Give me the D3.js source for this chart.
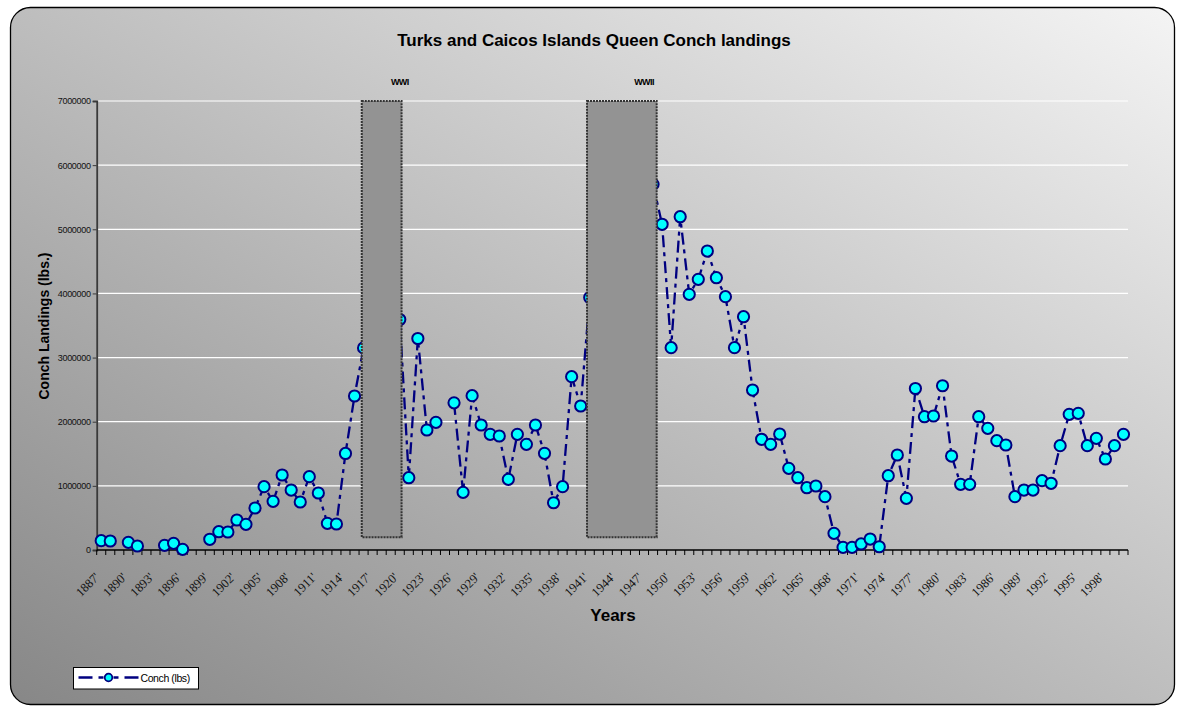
<!DOCTYPE html>
<html>
<head>
<meta charset="utf-8">
<script src="https://cdn.jsdelivr.net/npm/d3@7"></script>
<style>
  html, body { margin: 0; padding: 0; background: #fff; }
  svg { display: block; }
</style>
</head>
<body>
<div id="chart"></div>
<script>
// Turks and Caicos Islands queen conch landings, lbs per year (null = no point)
const years = d3.range(1887, 2001);
const conch = [
  145000, 140000, null, 120000, 62000, null, null, 73000, 104000, 11000,
  null, null, 167000, 285000, 281000, 468000, 400000, 655000, 987000, 759000,
  1169000, 935000, 748000, 1143000, 889000, 416000, 405000, 1505000, 2401000, 3150000,
  null, null, null, 3593000, 1127000, 3297000, 1871000, 1990000, null, 2294000,
  899000, 2406000, 1949000, 1803000, 1777000, 1102000, 1803000, 1648000, 1949000, 1507000,
  737000, 987000, 2702000, 2245000, 3936000, null, null, null, null, null,
  null, 5701000, 5078000, 3154000, 5196000, 3986000, 4220000, 4661000, 4245000, 3949000,
  3154000, 3637000, 2494000, 1726000, 1648000, 1808000, 1273000, 1127000, 971000, 998000,
  831000, 260000, 42000, 42000, 94000, 171000, 51000, 1158000, 1481000, 806000,
  2518000, 2078000, 2089000, 2561000, 1465000, 1024000, 1024000, 2078000, 1897000, 1704000,
  1637000, 831000, 935000, 935000, 1081000, 1040000, 1626000, 2115000, 2131000, 1626000,
  1741000, 1419000, 1626000, 1803000
];
const tickYears = [1887, 1890, 1893, 1896, 1899, 1902, 1905, 1908, 1911, 1914, 1917, 1920,
  1923, 1926, 1929, 1932, 1935, 1938, 1941, 1944, 1947, 1950, 1953, 1956, 1959, 1962,
  1965, 1968, 1971, 1974, 1977, 1980, 1983, 1986, 1989, 1992, 1995, 1998];
const yTicks = [0, 1000000, 2000000, 3000000, 4000000, 5000000, 6000000, 7000000];

// war shading (as drawn in the original)
const warNames = ["WWI", "WWII"];
const warStart = [1915.8, 1940.7];
const warEnd = [1920.2, 1948.4];
const warLabelYear = [1920, 1947];
const warLow = 200000, warHigh = 7000000;

const W = 1178, H = 707;
const plot = {left: 96.7, right: 1128, top: 101, bottom: 550};

const svg = d3.select("#chart").append("svg")
  .attr("width", W).attr("height", H);

const defs = svg.append("defs");
const grad = defs.append("linearGradient").attr("id", "bg")
  .attr("x1", 0).attr("y1", 1).attr("x2", 1).attr("y2", 0);
grad.append("stop").attr("offset", "0%").attr("stop-color", "#878787");
grad.append("stop").attr("offset", "100%").attr("stop-color", "#f4f4f4");

svg.append("rect")
  .attr("x", 10.5).attr("y", 7.5).attr("width", 1164).attr("height", 697)
  .attr("rx", 20).attr("ry", 20)
  .attr("fill", "url(#bg)").attr("stroke", "#000").attr("stroke-width", 1.3);

const x = d3.scaleBand().domain(years).range([plot.left, plot.right]).padding(0);
const cx = d => x(d) + x.bandwidth() / 2;
const xYear = d3.scaleLinear().domain([1887, 2000]).range([cx(1887), cx(2000)]);
const y = d3.scaleLinear().domain([0, 7000000]).range([plot.bottom, plot.top]);

// gridlines
svg.append("g").selectAll("line")
  .data(yTicks.slice(1)).join("line")
  .attr("x1", plot.left).attr("x2", plot.right)
  .attr("y1", d => y(d)).attr("y2", d => y(d))
  .attr("stroke", "#fff").attr("stroke-width", 1.2);

// y axis
const yAxis = svg.append("g")
  .attr("transform", `translate(${plot.left},0)`)
  .call(d3.axisLeft(y).tickValues(yTicks).tickFormat(d3.format("d")).tickSize(4).tickPadding(2));
yAxis.select(".domain").attr("stroke", "#3a3a3a").attr("stroke-width", 1.8);
yAxis.selectAll(".tick line").attr("stroke", "#3a3a3a");
yAxis.selectAll("text")
  .attr("font-family", "Liberation Sans, Arial, sans-serif")
  .attr("font-size", 9).attr("fill", "#111").attr("letter-spacing", -0.3);

// x axis: tick marks at category boundaries
const bounds = years.map(d => x(d)).concat([plot.right]);
svg.append("g").selectAll("line")
  .data(bounds).join("line")
  .attr("x1", d => d).attr("x2", d => d)
  .attr("y1", plot.bottom).attr("y2", plot.bottom + 5)
  .attr("stroke", "#000").attr("stroke-width", 1);
svg.append("line")
  .attr("x1", plot.left).attr("x2", plot.right)
  .attr("y1", plot.bottom).attr("y2", plot.bottom)
  .attr("stroke", "#000").attr("stroke-width", 1.5);

const xAxis = svg.append("g")
  .attr("transform", `translate(0,${plot.bottom})`)
  .call(d3.axisBottom(x).tickValues(tickYears).tickSize(0).tickFormat(d => d + "'"));
xAxis.select(".domain").remove();
xAxis.selectAll("text")
  .attr("font-family", "Liberation Serif, Times New Roman, serif")
  .attr("font-size", 12.5).attr("fill", "#111")
  .attr("text-anchor", "end")
  .attr("dy", null).attr("y", null)
  .attr("transform", "translate(-1,28) rotate(-45)");

// line + markers
const pts = years.map((d, i) => ({year: d, v: conch[i]}));
const line = d3.line()
  .defined(d => d.v != null)
  .x(d => cx(d.year)).y(d => y(d.v));

svg.append("path")
  .datum(pts)
  .attr("d", line)
  .attr("fill", "none")
  .attr("stroke", "#000080")
  .attr("stroke-width", 2.3)
  .attr("stroke-dasharray", "12,5,4,5");

svg.append("g").selectAll("circle")
  .data(pts.filter(d => d.v != null)).join("circle")
  .attr("cx", d => cx(d.year)).attr("cy", d => y(d.v))
  .attr("r", 5.6)
  .attr("fill", "#00ffff").attr("stroke", "#000080").attr("stroke-width", 2);

// war boxes drawn over the series
const wars = warNames.map((n, i) => ({name: n, s: warStart[i], e: warEnd[i], ly: warLabelYear[i]}));
svg.append("g").selectAll("rect")
  .data(wars).join("rect")
  .attr("x", d => xYear(d.s)).attr("width", d => xYear(d.e) - xYear(d.s))
  .attr("y", y(warHigh)).attr("height", y(warLow) - y(warHigh))
  .attr("fill", "#939393")
  .attr("stroke", "#333").attr("stroke-width", 2)
  .attr("stroke-dasharray", "2,1");

svg.append("g").selectAll("text")
  .data(wars).join("text")
  .attr("x", d => xYear(d.ly)).attr("y", 85)
  .attr("text-anchor", "middle")
  .attr("font-family", "Liberation Sans, Arial, sans-serif")
  .attr("font-weight", "bold").attr("font-size", 9).attr("letter-spacing", -0.6)
  .text(d => d.name);

// titles
svg.append("text")
  .attr("x", 594).attr("y", 46)
  .attr("text-anchor", "middle")
  .attr("font-family", "Liberation Sans, Arial, sans-serif")
  .attr("font-weight", "bold").attr("font-size", 17)
  .text("Turks and Caicos Islands Queen Conch landings");

svg.append("text")
  .attr("x", 613).attr("y", 621)
  .attr("text-anchor", "middle")
  .attr("font-family", "Liberation Sans, Arial, sans-serif")
  .attr("font-weight", "bold").attr("font-size", 17)
  .text("Years");

svg.append("text")
  .attr("transform", "translate(49,326) rotate(-90)")
  .attr("text-anchor", "middle")
  .attr("font-family", "Liberation Sans, Arial, sans-serif")
  .attr("font-weight", "bold").attr("font-size", 14)
  .text("Conch Landings (lbs.)");

// legend
const lg = svg.append("g").attr("transform", "translate(73.5,667.5)");
lg.append("rect").attr("width", 125).attr("height", 21.5)
  .attr("fill", "#fff").attr("stroke", "#000").attr("stroke-width", 1);
lg.append("line").attr("x1", 5).attr("x2", 65).attr("y1", 10).attr("y2", 10)
  .attr("stroke", "#000080").attr("stroke-width", 2.3)
  .attr("stroke-dasharray", "14,6,5,10,5,6,14");
lg.append("circle").attr("cx", 35).attr("cy", 10).attr("r", 3.8)
  .attr("fill", "#00ffff").attr("stroke", "#000080").attr("stroke-width", 1.8);
lg.append("text").attr("x", 67).attr("y", 14.5)
  .attr("font-family", "Liberation Sans, Arial, sans-serif")
  .attr("font-size", 10.5).attr("letter-spacing", -0.4)
  .text("Conch (lbs)");
</script>
</body>
</html>
